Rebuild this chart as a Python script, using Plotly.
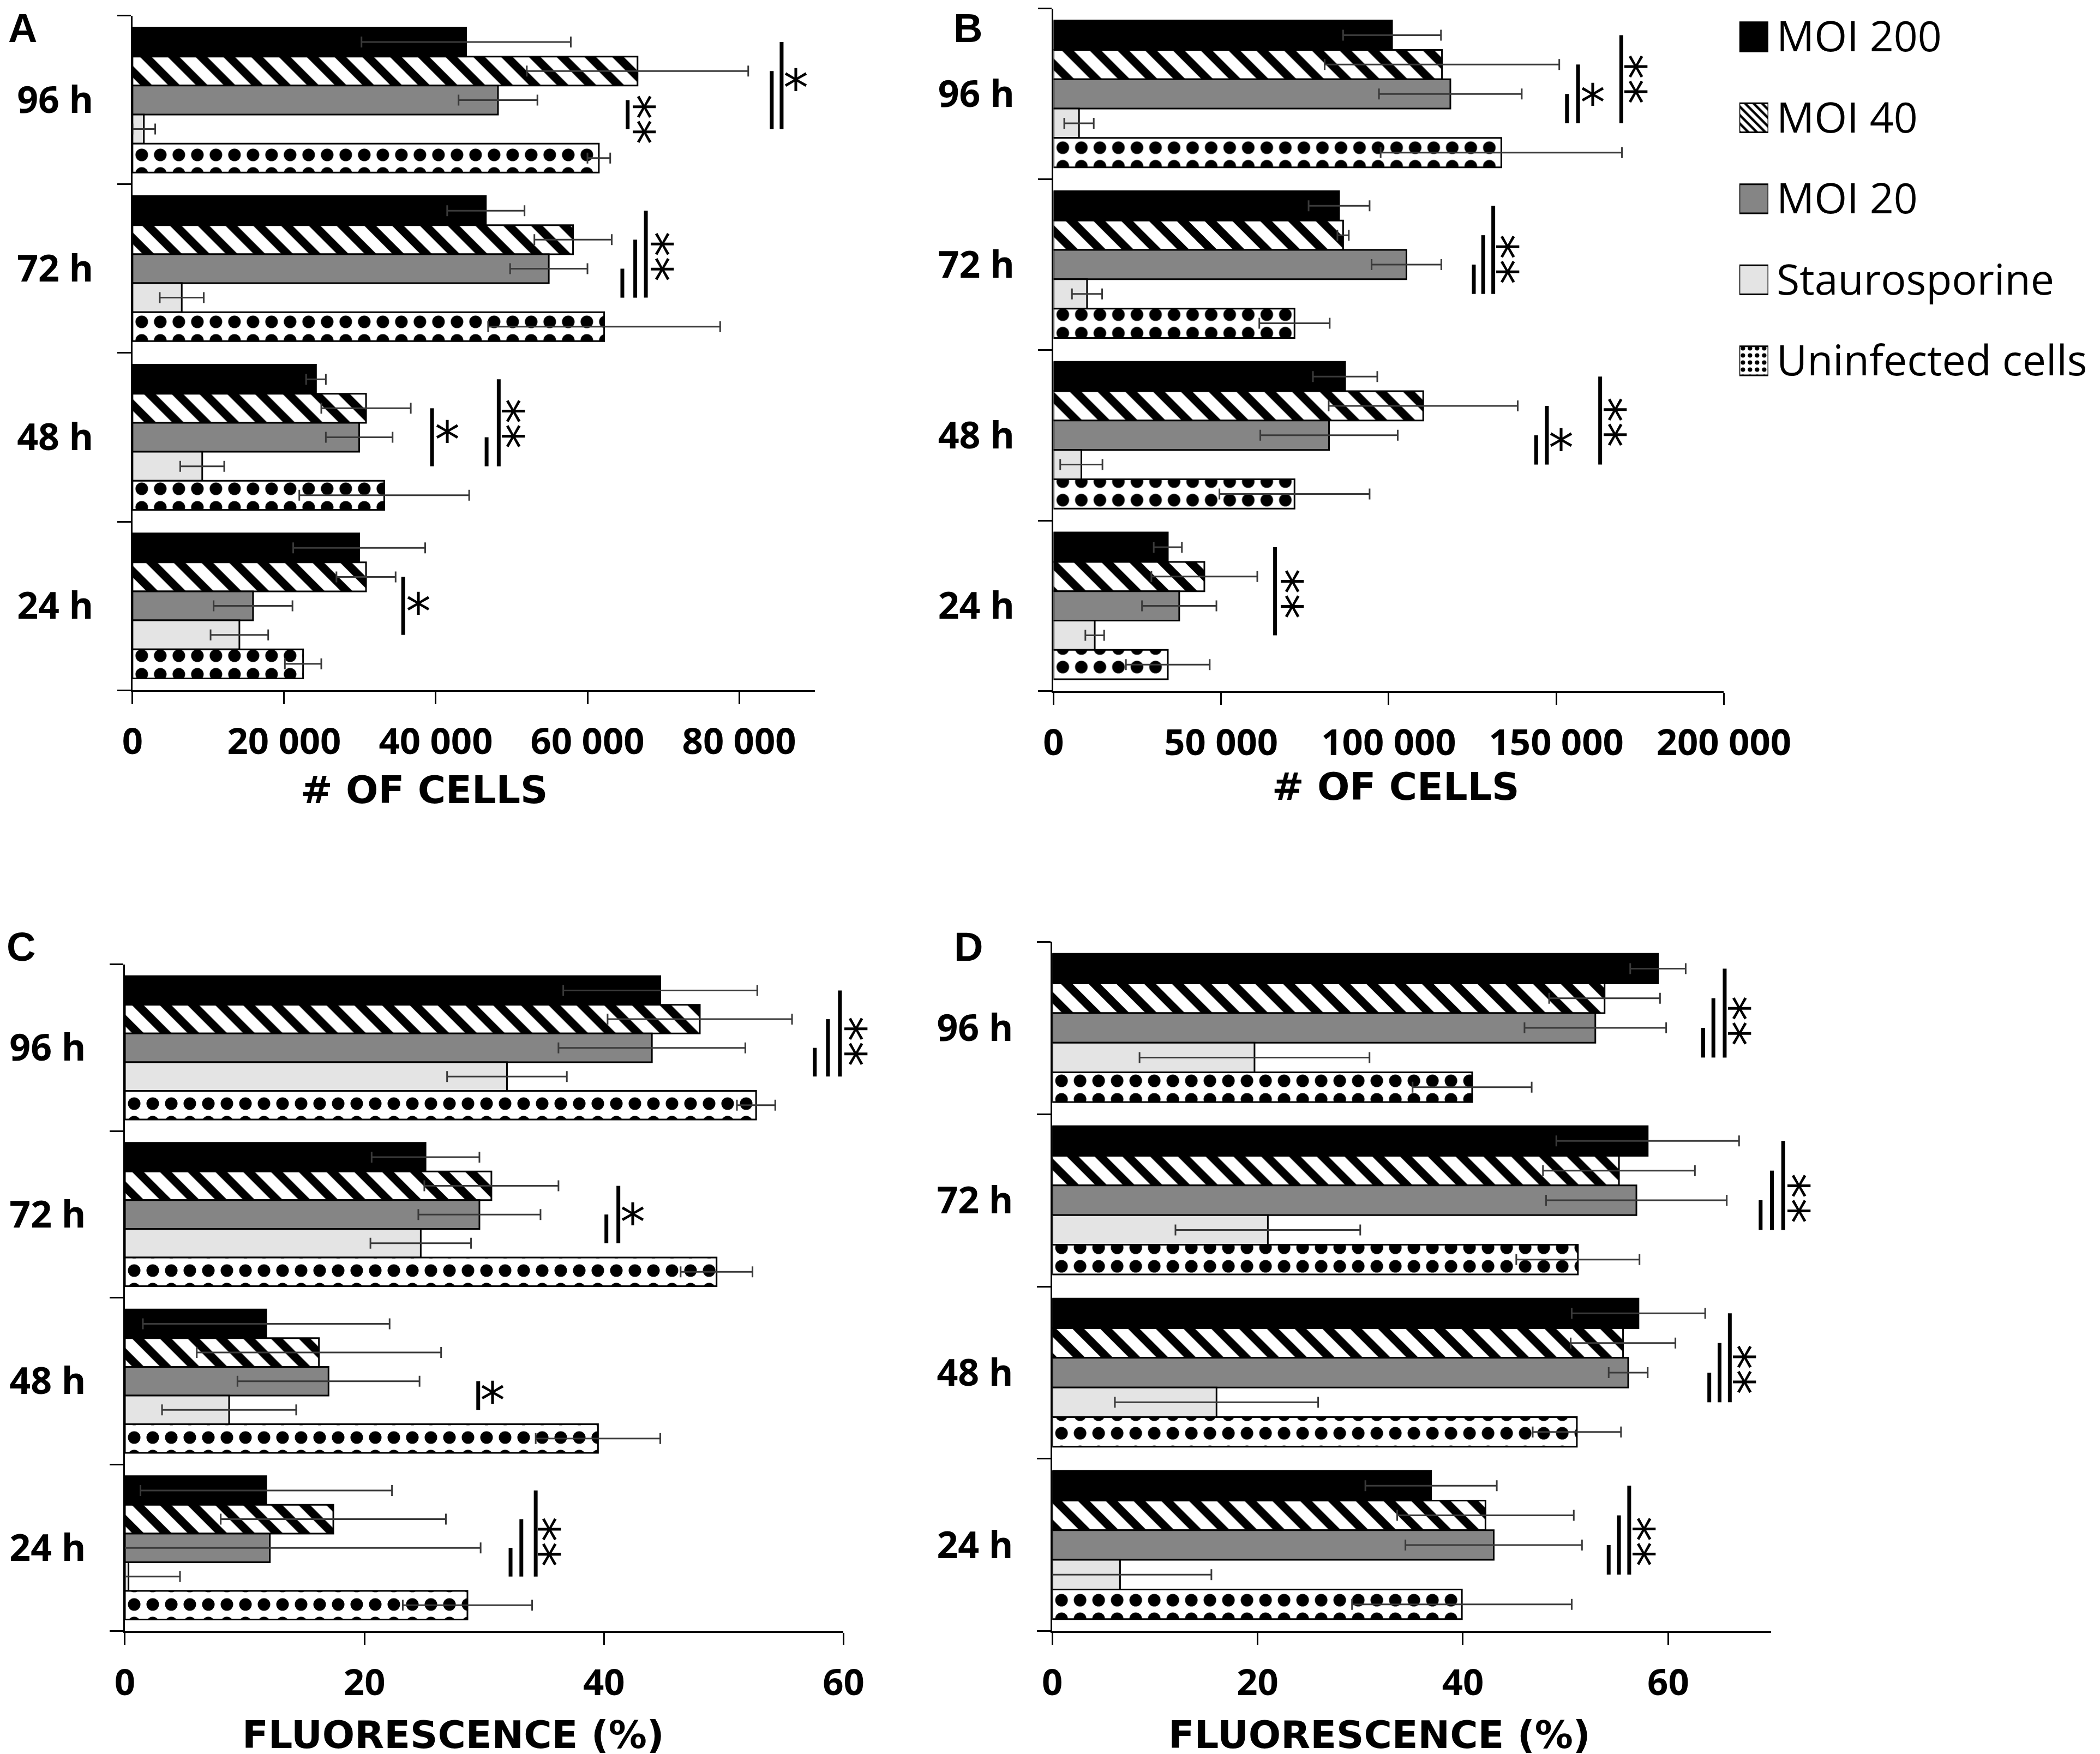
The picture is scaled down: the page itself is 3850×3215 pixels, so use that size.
import plotly.graph_objects as go

# ---- data ----
time_labels = ["96 h", "72 h", "48 h", "24 h"]
series_names = ["MOI 200", "MOI 40", "MOI 20", "Staurosporine", "Uninfected cells"]

# panel A: # of cells (flow)
a_moi200 = [44000, 46600, 24200, 29900]
a_moi200_err = [13800, 5100, 1300, 8700]
a_moi40 = [66600, 58100, 30800, 30800]
a_moi40_err = [14600, 5100, 5900, 3900]
a_moi20 = [48200, 54900, 29900, 15900]
a_moi20_err = [5200, 5100, 4400, 5200]
a_stauro = [1500, 6500, 9200, 14100]
a_stauro_err = [1500, 2900, 2900, 3800]
a_uninf = [61500, 62200, 33200, 22500]
a_uninf_err = [1500, 15300, 11200, 2400]

# panel B: # of cells
b_moi200 = [101000, 85200, 87000, 34100]
b_moi200_err = [14600, 9100, 9600, 4200]
b_moi40 = [115900, 86400, 110300, 45000]
b_moi40_err = [35000, 1700, 28200, 15800]
b_moi20 = [118400, 105300, 82200, 37500]
b_moi20_err = [21300, 10400, 20500, 11100]
b_stauro = [7600, 10000, 8300, 12300]
b_stauro_err = [4400, 4500, 6300, 2800]
b_uninf = [133600, 71900, 71900, 34100]
b_uninf_err = [36000, 10500, 22400, 12500]

# panel C: fluorescence (%)
c_moi200 = [44.7, 25.1, 11.8, 11.8]
c_moi200_err = [8.1, 4.5, 10.3, 10.5]
c_moi40 = [48.0, 30.6, 16.2, 17.4]
c_moi40_err = [7.7, 5.6, 10.2, 9.4]
c_moi20 = [44.0, 29.6, 17.0, 12.1]
c_moi20_err = [7.8, 5.1, 7.6, 17.6]
c_stauro = [31.9, 24.7, 8.7, 0.3]
c_stauro_err = [5.0, 4.2, 5.6, 4.3]
c_uninf = [52.7, 49.4, 39.5, 28.6]
c_uninf_err = [1.6, 3.0, 5.2, 5.4]

# panel D: fluorescence (%)
d_moi200 = [59.0, 58.0, 57.1, 36.9]
d_moi200_err = [2.7, 8.9, 6.5, 6.4]
d_moi40 = [53.8, 55.2, 55.6, 42.2]
d_moi40_err = [5.4, 7.4, 5.1, 8.6]
d_moi20 = [52.9, 56.9, 56.1, 43.0]
d_moi20_err = [6.9, 8.8, 1.9, 8.6]
d_stauro = [19.7, 21.0, 16.0, 6.6]
d_stauro_err = [11.2, 9.0, 9.9, 8.9]
d_uninf = [40.9, 51.2, 51.1, 39.9]
d_uninf_err = [5.8, 6.0, 4.3, 10.7]

# tick labels
a_ticks = [0, 20000, 40000, 60000, 80000]
a_ticktext = ["0", "20 000", "40 000", "60 000", "80 000"]
b_ticks = [0, 50000, 100000, 150000, 200000]
b_ticktext = ["0", "50 000", "100 000", "150 000", "200 000"]
pct_ticks = [0, 20, 40, 60]
pct_ticktext = ["0", "20", "40", "60"]

# significance bars: (time index, from bar, to bar, x)
a_sig_lines = [(0, 0, 3, 85600), (0, 1, 3, 84300), (0, 2, 3, 65300),
               (1, 2, 3, 64600), (1, 1, 3, 66300), (1, 0, 3, 67700),
               (2, 1, 3, 39500), (2, 2, 3, 46700), (2, 0, 3, 48300),
               (3, 1, 3, 35700)]
b_sig_lines = [(0, 2, 3, 153200), (0, 1, 3, 156500), (0, 0, 3, 169400),
               (1, 2, 3, 125400), (1, 1, 3, 128200), (1, 0, 3, 131200),
               (2, 2, 3, 144000), (2, 1, 3, 147200), (2, 0, 3, 163100),
               (3, 0, 3, 66100)]
c_sig_lines = [(0, 2, 3, 57.6), (0, 1, 3, 58.7), (0, 0, 3, 59.7),
               (1, 2, 3, 40.2), (1, 1, 3, 41.2),
               (2, 2, 3, 29.5),
               (3, 2, 3, 32.2), (3, 1, 3, 33.1), (3, 0, 3, 34.3)]
d_sig_lines = [(0, 2, 3, 63.4), (0, 1, 3, 64.4), (0, 0, 3, 65.5),
               (1, 2, 3, 69.0), (1, 1, 3, 70.1), (1, 0, 3, 71.2),
               (2, 2, 3, 64.0), (2, 1, 3, 65.0), (2, 0, 3, 66.0),
               (3, 2, 3, 54.2), (3, 1, 3, 55.2), (3, 0, 3, 56.2)]
# asterisks: (time index, offset inside group, x, marker text)
a_stars = [(0, -0.088, 87500, "*"), (0, 0.113, 67600, "**"), (1, -0.073, 69900, "**"),
           (2, 0.0, 41500, "*"), (2, -0.08, 50300, "**"), (3, 0.02, 37700, "*")]
b_stars = [(0, 0.035, 160800, "*"), (0, -0.087, 173900, "**"), (1, -0.03, 135700, "**"),
           (2, 0.06, 151500, "*"), (2, -0.078, 167800, "**"), (3, -0.07, 71400, "**")]
c_stars = [(0, -0.04, 61.1, "**"), (1, 0.03, 42.4, "*"), (2, 0.1, 30.7, "*"), (3, -0.035, 35.5, "**")]
d_stars = [(0, -0.04, 67.0, "**"), (1, -0.01, 72.8, "**"), (2, -0.02, 67.5, "**"), (3, -0.02, 57.7, "**")]

# ---- styling ----
BARGAP = 0.14
styles = [
    dict(color="black", pattern=dict(shape="")),
    dict(color="white", pattern=dict(shape="\\", fgcolor="black", bgcolor="white",
                                     fgopacity=1, size=36, solidity=0.42)),
    dict(color="#858585", pattern=dict(shape="")),
    dict(color="#e4e4e4", pattern=dict(shape="")),
    dict(color="white", pattern=dict(shape=".", fgcolor="black", bgcolor="white",
                                     fgopacity=1, size=34, solidity=0.36)),
]
legend_patterns = [
    dict(shape=""),
    dict(shape="\\", fgcolor="black", bgcolor="white", fgopacity=1, size=11, solidity=0.4),
    dict(shape=""),
    dict(shape=""),
    dict(shape=".", fgcolor="black", bgcolor="white", fgopacity=1, size=13, solidity=0.3),
]

panels = [
    dict(vals=[a_moi200, a_moi40, a_moi20, a_stauro, a_uninf],
         errs=[a_moi200_err, a_moi40_err, a_moi20_err, a_stauro_err, a_uninf_err],
         xdom=[0.061, 0.386], ydom=[0.609, 0.9935], xmax=90000,
         ticks=a_ticks, ticktext=a_ticktext, lines=a_sig_lines, stars=a_stars),
    dict(vals=[b_moi200, b_moi40, b_moi20, b_stauro, b_uninf],
         errs=[b_moi200_err, b_moi40_err, b_moi20_err, b_stauro_err, b_uninf_err],
         xdom=[0.4996, 0.8188], ydom=[0.6084, 0.9976], xmax=200000,
         ticks=b_ticks, ticktext=b_ticktext, lines=b_sig_lines, stars=b_stars),
    dict(vals=[c_moi200, c_moi40, c_moi20, c_stauro, c_uninf],
         errs=[c_moi200_err, c_moi40_err, c_moi20_err, c_stauro_err, c_uninf_err],
         xdom=[0.0574, 0.3996], ydom=[0.0725, 0.4526], xmax=60,
         ticks=pct_ticks, ticktext=pct_ticktext, lines=c_sig_lines, stars=c_stars),
    dict(vals=[d_moi200, d_moi40, d_moi20, d_stauro, d_uninf],
         errs=[d_moi200_err, d_moi40_err, d_moi20_err, d_stauro_err, d_uninf_err],
         xdom=[0.499, 0.8412], ydom=[0.0725, 0.4656], xmax=70,
         ticks=pct_ticks, ticktext=pct_ticktext, lines=d_sig_lines, stars=d_stars),
]

y_pos = list(range(len(time_labels)))
n_series = len(series_names)
bar_w = (1 - BARGAP) / n_series


def bar_center(t, i):
    return t - (1 - BARGAP) / 2 + bar_w * (i + 0.5)


fig = go.Figure()
EXT = 1.12  # bracket axes reach past the visible axis end
tickfont = dict(family="Open Sans", size=67, color="black", weight="bold")
star_font = dict(family="DejaVu Sans", size=92, color="black")

for p, pan in enumerate(panels):
    n = p + 1
    xa = "x" if n == 1 else f"x{n}"
    ya = "y" if n == 1 else f"y{n}"
    for i in range(n_series):
        st = styles[i]
        fig.add_trace(go.Bar(
            x=pan["vals"][i], y=y_pos, orientation="h", xaxis=xa, yaxis=ya,
            name=series_names[i], showlegend=False,
            marker=dict(color=st["color"], pattern=st["pattern"],
                        line=dict(color="black", width=3)),
            error_x=dict(type="data", array=pan["errs"][i], color="#3a3a3a",
                         thickness=3, width=10),
        ))
    # significance brackets on an extended invisible axis
    bn = n + 4
    bxa = f"x{bn}"
    lx, ly = [], []
    for (t, i0, i1, xv) in pan["lines"]:
        lx += [xv, xv, None]
        ly += [bar_center(t, i0), bar_center(t, i1), None]
    fig.add_trace(go.Scatter(x=lx, y=ly, mode="lines", xaxis=bxa, yaxis=ya,
                             line=dict(color="black", width=7), showlegend=False,
                             hoverinfo="skip"))
    for (t, off, xv, txt) in pan["stars"]:
        if txt == "*":
            fig.add_annotation(x=xv, y=t + off, xref=bxa, yref=ya, text="*",
                               showarrow=False, font=star_font, yshift=-6)
        else:
            # "**" stacked vertically, as in the original
            fig.add_annotation(x=xv, y=t + off, xref=bxa, yref=ya, text="**",
                               textangle=90, showarrow=False, font=star_font,
                               xshift=-18)

    fig.layout[f"xaxis{'' if n == 1 else n}"] = dict(
        domain=pan["xdom"], anchor=ya, range=[0, pan["xmax"]], automargin=False,
        tickmode="array", tickvals=pan["ticks"], ticktext=pan["ticktext"],
        ticks="outside", ticklen=22, tickwidth=3, tickcolor="black",
        showline=True, linecolor="black", linewidth=3, showgrid=False, zeroline=False,
        tickfont=tickfont, ticklabelstandoff=12,
    )
    fig.layout[f"yaxis{'' if n == 1 else n}"] = dict(
        domain=pan["ydom"], anchor=xa, range=[len(time_labels) - 0.5, -0.5], automargin=False,
        tickmode="array", tickvals=y_pos, ticktext=time_labels, ticks="",
        minor=dict(tickmode="array", tickvals=[v - 0.5 for v in y_pos] + [len(y_pos) - 0.5],
                   ticks="outside", ticklen=25, tickwidth=3, tickcolor="black", showgrid=False),
        showline=True, linecolor="black", linewidth=3, showgrid=False, zeroline=False,
        tickfont=dict(family="Open Sans", size=68, color="black", weight="bold"),
        ticklabelstandoff=55,
    )
    d0, d1 = pan["xdom"]
    fig.layout[f"xaxis{bn}"] = dict(domain=[d0, d0 + (d1 - d0) * EXT], anchor=ya,
                                    range=[0, pan["xmax"] * EXT], visible=False,
                                    automargin=False)

# legend drawn as swatches on its own small axes
for i in range(n_series):
    fig.add_trace(go.Bar(
        x=[1], y=[i], orientation="h", xaxis="x9", yaxis="y9", width=0.36,
        offsetgroup="legend", showlegend=False, hoverinfo="skip",
        marker=dict(color=styles[i]["color"], pattern=legend_patterns[i],
                    line=dict(color="black", width=3)),
    ))
fig.layout["xaxis9"] = dict(domain=[0.8262, 0.8400], anchor="y9", range=[0, 1],
                            visible=False, automargin=False)
fig.layout["yaxis9"] = dict(domain=[0.7783, 1.0], anchor="x9", side="right", automargin=False,
                            range=[n_series - 0.6, -0.4], tickmode="array",
                            tickvals=list(range(n_series)), ticktext=series_names,
                            ticks="", showline=False, showgrid=False, zeroline=False,
                            tickfont=dict(family="Open Sans", size=77, color="black"),
                            ticklabelstandoff=14)

# axis titles and panel letters
title_font = dict(family="DejaVu Sans", size=70, color="black", weight="bold")
letter_font = dict(family="Liberation Sans", size=74, color="black", weight="bold")
notes = [
    ("# OF CELLS", 0.200, 0.552, title_font, "middle"),
    ("# OF CELLS", 0.6626, 0.554, title_font, "middle"),
    ("FLUORESCENCE (%)", 0.2138, 0.0134, title_font, "middle"),
    ("FLUORESCENCE (%)", 0.6548, 0.0134, title_font, "middle"),
    ("A", 0.0086, 1.0, letter_font, "top"),
    ("B", 0.4588, 1.0, letter_font, "top"),
    ("C", 0.0080, 0.4628, letter_font, "middle"),
    ("D", 0.4590, 0.4628, letter_font, "middle"),
]
for txt, x, y, f, ya_ in notes:
    fig.add_annotation(text=txt, x=x, y=y, xref="paper", yref="paper",
                       showarrow=False, font=f, xanchor="center", yanchor=ya_)

fig.update_layout(
    width=3850, height=3215, autosize=False,
    margin=dict(l=0, r=0, t=0, b=0),
    barmode="group", bargap=BARGAP, bargroupgap=0,
    paper_bgcolor="white", plot_bgcolor="rgba(0,0,0,0)",
    font=dict(family="Open Sans", color="black"),
    showlegend=False,
)

fig.write_html("out.html")
